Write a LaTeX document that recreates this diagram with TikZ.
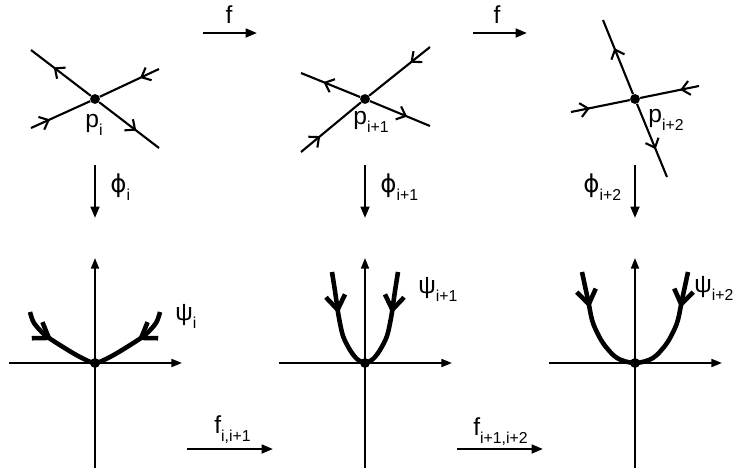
\documentclass[tikz,border=0pt]{standalone}
\usepackage{fontspec}
\setmainfont{Liberation Sans}
\newfontfamily\grkfont{DejaVu Sans}
\usetikzlibrary{arrows.meta,decorations.markings}
\newcommand{\subidx}[1]{\raisebox{-5pt}{\fontsize{9}{10}\selectfont #1}}

\begin{document}
\begin{tikzpicture}[
    x=0.02cm, y=-0.02cm,
    dot/.style={circle, fill=black, inner sep=0pt, minimum size=5.6pt},
    sepx/.style={line width=1.2pt},
    outmark/.style={sepx, postaction={decorate}, decoration={markings, mark=at position 0.62 with {\arrow{Straight Barb[length=4.5pt,width=8pt]}}}},
    inmark/.style={sepx, postaction={decorate}, decoration={markings, mark=at position 0.68 with {\arrowreversed{Straight Barb[length=4.5pt,width=8pt]}}}},
    axis/.style={line width=1.1pt, -{Triangle[length=6pt,width=4.5pt]}},
    arr/.style={line width=1.3pt, -{Triangle[length=6.5pt,width=5pt]}},
    psi/.style={line width=2.6pt, line join=round, postaction={decorate}, decoration={markings,
        mark=at position #1 with {\arrow{Straight Barb[length=8pt,width=11pt]}},
        mark=at position -#1 with {\arrowreversed{Straight Barb[length=8pt,width=11pt]}}}},
    lbl/.style={font=\fontsize{14}{16}\selectfont, inner sep=0pt, anchor=base west}
]
\useasboundingbox (0,0) rectangle (735,474);

% top row: saddle points
\node[dot] (p1) at (95,99) {};
\coordinate (p1ul) at (31,50);
\coordinate (p1lr) at (159,148);
\coordinate (p1ll) at (31,128);
\coordinate (p1ur) at (159,69);
\draw[outmark] (p1) -- (p1ul);
\draw[outmark] (p1) -- (p1lr);
\draw[inmark] (p1) -- (p1ll);
\draw[inmark] (p1) -- (p1ur);
\node[lbl] (lp1) at (85,127) {p\subidx{i}};

\node[dot] (p2) at (365,99) {};
\coordinate (p2ul) at (301,73);
\coordinate (p2lr) at (430,126);
\coordinate (p2ll) at (301,152);
\coordinate (p2ur) at (430,47);
\draw[outmark] (p2) -- (p2ul);
\draw[outmark] (p2) -- (p2lr);
\draw[inmark] (p2) -- (p2ll);
\draw[inmark] (p2) -- (p2ur);
\node[lbl] (lp2) at (353,124) {p\subidx{i+1}};

\node[dot] (p3) at (635,99) {};
\coordinate (p3up) at (603,20);
\coordinate (p3dn) at (667,177);
\coordinate (p3lf) at (571,112);
\coordinate (p3rt) at (699,86);
\draw[outmark] (p3) -- (p3up);
\draw[outmark] (p3) -- (p3dn);
\draw[inmark] (p3) -- (p3lf);
\draw[inmark] (p3) -- (p3rt);
\node[lbl] (lp3) at (648,122) {p\subidx{i+2}};

% maps f
\coordinate (f1s) at (203,33);
\coordinate (f1e) at (257,33);
\draw[arr] (f1s) -- (f1e);
\node[lbl, anchor=base] (lf1) at (229,23) {f};
\coordinate (f2s) at (473,33);
\coordinate (f2e) at (527,33);
\draw[arr] (f2s) -- (f2e);
\node[lbl, anchor=base] (lf2) at (497,23) {f};

% charts phi
\coordinate (v1s) at (95,165);
\coordinate (v1e) at (95,218);
\draw[arr] (v1s) -- (v1e);
\node[lbl] (lphi1) at (110,192) {{\grkfont ϕ}\subidx{i}};
\coordinate (v2s) at (365,165);
\coordinate (v2e) at (365,218);
\draw[arr] (v2s) -- (v2e);
\node[lbl] (lphi2) at (380,192) {{\grkfont ϕ}\subidx{i+1}};
\coordinate (v3s) at (635,165);
\coordinate (v3e) at (635,218);
\draw[arr] (v3s) -- (v3e);
\node[lbl] (lphi3) at (583,192) {{\grkfont ϕ}\subidx{i+2}};

% bottom row: local pictures
\node[dot] (o1) at (95,363) {};
\coordinate (x1a) at (9,363);
\coordinate (x1b) at (182,363);
\coordinate (y1a) at (95,468);
\coordinate (y1b) at (95,258);
\draw[axis] (x1a) -- (x1b);
\draw[axis] (y1a) -- (y1b);
\draw[psi=21pt, shift={(o1)}] plot[smooth] coordinates {(-65,-51) (-61,-40) (-50,-28) (-32,-16) (-15,-6) (0,0) (15,-6) (32,-16) (50,-28) (61,-40) (65,-51)};
\node[lbl] (lpsi1) at (175,320) {ψ\subidx{i}};

\node[dot] (o2) at (365,363) {};
\coordinate (x2a) at (279,363);
\coordinate (x2b) at (452,363);
\coordinate (y2a) at (365,468);
\coordinate (y2b) at (365,258);
\draw[axis] (x2a) -- (x2b);
\draw[axis] (y2a) -- (y2b);
\draw[psi=24pt, shift={(o2)}] plot[smooth] coordinates {(-33,-91) (-30,-72) (-28,-58) (-26,-45) (-22,-27) (-15,-13) (-8,-4) (0,0) (8,-4) (15,-13) (22,-27) (26,-45) (28,-58) (30,-72) (33,-91)};
\node[lbl] (lpsi2) at (418,293) {ψ\subidx{i+1}};

\node[dot] (o3) at (635,363) {};
\coordinate (x3a) at (549,363);
\coordinate (x3b) at (722,363);
\coordinate (y3a) at (635,468);
\coordinate (y3b) at (635,258);
\draw[axis] (x3a) -- (x3b);
\draw[axis] (y3a) -- (y3b);
\draw[psi=21pt, shift={(o3)}] plot[smooth] coordinates {(-53,-91) (-47,-63) (-42,-40) (-32,-20) (-18,-5) (0,0) (18,-5) (32,-20) (42,-40) (47,-63) (53,-91)};
\node[lbl] (lpsi3) at (694,292) {ψ\subidx{i+2}};

% induced maps
\coordinate (g1s) at (187,449);
\coordinate (g1e) at (273,449);
\draw[arr] (g1s) -- (g1e);
\node[lbl] (lg1) at (214,433) {f\subidx{i,i+1}};
\coordinate (g2s) at (457,449);
\coordinate (g2e) at (543,449);
\draw[arr] (g2s) -- (g2e);
\node[lbl] (lg2) at (473,435) {f\subidx{i+1,i+2}};
\end{tikzpicture}
\end{document}
